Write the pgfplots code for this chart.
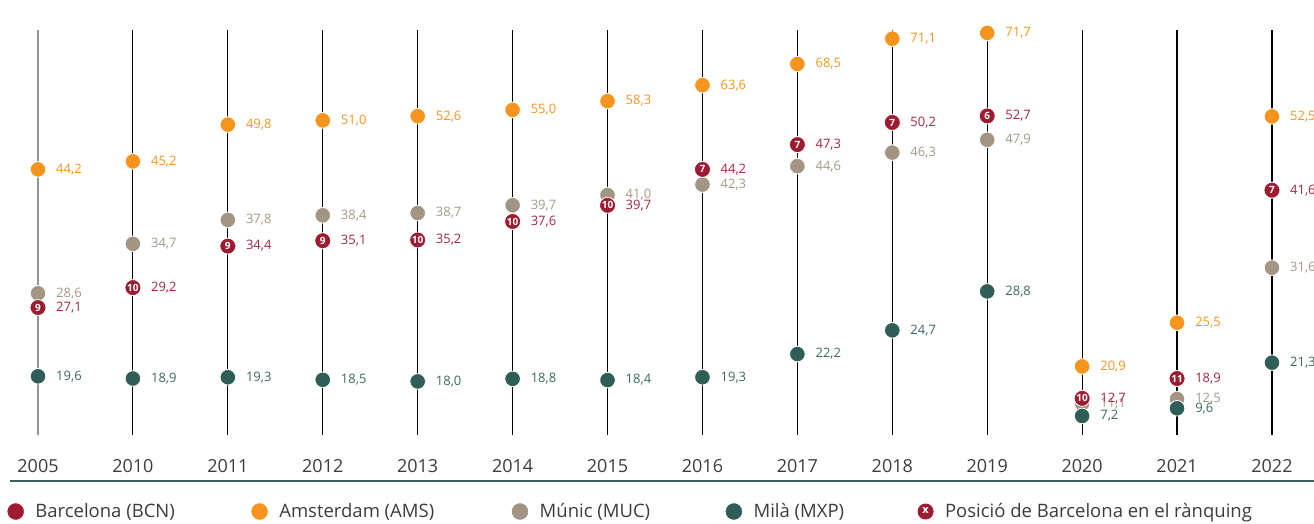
\documentclass[border=0pt]{standalone}
\usepackage{fontspec}
\setmainfont{Open Sans}
\usepackage{pgfplots}
\usepackage{pgfplotstable}
\pgfplotsset{compat=1.18}
\definecolor{bcn}{HTML}{9E1B32}
\definecolor{bcntxt}{HTML}{A3263D}
\definecolor{ams}{HTML}{F7941D}
\definecolor{muc}{HTML}{A29584}
\definecolor{muctxt}{HTML}{A39887}
\definecolor{mxp}{HTML}{2F5D57}
\definecolor{mxptxt}{HTML}{3A6962}
\definecolor{txtgray}{HTML}{3C3C3C}
\definecolor{rulecol}{HTML}{3F5E5E}

\pgfplotstableread{
x v r
0 27.1 9
1 29.2 10
2 34.4 9
3 35.1 9
4 35.2 10
5 37.6 10
6 39.7 10
7 44.2 7
8 47.3 7
9 50.2 7
10 52.7 6
11 12.7 10
12 18.9 11
13 41.6 7
}\bcn
\pgfplotstableread{
x v
0 44.2
1 45.2
2 49.8
3 51.0
4 52.6
5 55.0
6 58.3
7 63.6
8 68.5
9 71.1
10 71.7
11 20.9
12 25.5
13 52.5
}\ams
\pgfplotstableread{
x v
0 28.6
1 34.7
2 37.8
3 38.4
4 38.7
5 39.7
6 41.0
7 42.3
8 44.6
9 46.3
10 47.9
11 11.1
12 12.5
13 31.6
}\muc
\pgfplotstableread{
x v
0 19.6
1 18.9
2 19.3
3 18.5
4 18.0
5 18.8
6 18.4
7 19.3
8 22.2
9 24.7
10 28.8
11 7.2
12 9.6
13 21.3
}\mxp

\pgfplotsset{
  valnode/.style={
    draw=none, mark=none, forget plot,
    point meta=explicit,
    nodes near coords={\pgfmathprintnumber[fixed, fixed zerofill, precision=1, use comma, assume math mode=true]{\pgfplotspointmeta}},
    every node near coord/.append style={anchor=west, xshift=18pt, inner sep=0pt, text=#1, font=\fontsize{13}{15}\selectfont},
  },
  dot/.style={only marks, mark=*, mark size=7.8pt, forget plot,
    mark options={fill=#1, draw=white, line width=0.8pt}},
}

\begin{document}
\begin{tikzpicture}
\useasboundingbox (0,0) rectangle (1314pt,523pt);
\begin{axis}[
  at={(0pt,88pt)}, anchor=south west,
  scale only axis, width=1314pt, height=405pt,
  xmin=-0.40034, xmax=13.4429,
  ymin=1.25, ymax=72,
  y coord trafo/.code={\pgfmathparse{(#1<20) ? (-4+3.2*#1) : ((#1<30) ? (60+9.5*(#1-20)) : ((#1<40) ? (155+7.7*(#1-30)) : ((#1<50) ? (232+8*(#1-40)) : ((#1<58) ? (312+2.625*(#1-50)) : ((#1<64) ? (333+3*(#1-58)) : ((#1<68.5) ? (351+4.444*(#1-64)) : (371+9.714*(#1-68.5))))))))}},
  clip=false,
  axis line style={draw=none},
  major tick length=0pt,
  ytick=\empty,
  xtick={1,...,13},
  xticklabels={\textnormal{2010},\textnormal{2011},\textnormal{2012},\textnormal{2013},\textnormal{2014},\textnormal{2015},\textnormal{2016},\textnormal{2017},\textnormal{2018},\textnormal{2019},\textnormal{2020},\textnormal{2021},\textnormal{2022}},
  extra x ticks={0},
  extra x tick labels={\textnormal{2005}},
  xmajorgrids,
  grid style={black, line width=1.15pt},
  extra x tick style={grid style={color=gray!85, line width=1.6pt}},
  xticklabel style={anchor=base, yshift=-37pt, inner sep=0pt, text=txtgray, font=\fontsize{18}{21}\selectfont},
  legend columns=5,
  legend cell align=left,
  legend style={at={(0.005708,-0.1889)}, anchor=west, draw=none, fill=none,
    inner sep=0pt, outer sep=0pt, nodes={inner sep=0pt},
    font=\fontsize{18.5}{21}\selectfont, text=txtgray,
    /tikz/every odd column/.style={column sep=11.5pt},
    /tikz/every even column/.style={column sep=0pt}},
]
% Munich
\addplot[dot=muc] table[x=x,y=v]{\muc};
\addplot[valnode=muctxt] table[x=x,y=v,meta=v]{\muc};
% Milan
\addplot[dot=mxp] table[x=x,y=v]{\mxp};
\addplot[valnode=mxptxt] table[x=x,y=v,meta=v]{\mxp};
% Barcelona (rank in marker)
\addplot[draw=none, mark=none, forget plot, point meta=explicit symbolic,
  nodes near coords,
  every node near coord/.append style={anchor=center, circle, fill=bcn, draw=white, line width=0.8pt,
    minimum size=16pt, inner sep=0pt, text=white, font=\bfseries\fontsize{10}{10}\selectfont}]
  table[x=x,y=v,meta=r]{\bcn};
\addplot[valnode=bcntxt] table[x=x,y=v,meta=v]{\bcn};
% Amsterdam
\addplot[dot=ams] table[x=x,y=v]{\ams};
\addplot[valnode=ams] table[x=x,y=v,meta=v]{\ams};

\addlegendimage{legend image code/.code={\fill[bcn] (0pt,0pt) circle (8pt);}}
\addlegendentry{\makebox[216pt][l]{Barcelona (BCN)}}
\addlegendimage{legend image code/.code={\fill[ams] (0pt,0pt) circle (8pt);}}
\addlegendentry{\makebox[232.5pt][l]{Amsterdam (AMS)}}
\addlegendimage{legend image code/.code={\fill[muc] (0pt,0pt) circle (8pt);}}
\addlegendentry{\makebox[186pt][l]{Múnic (MUC)}}
\addlegendimage{legend image code/.code={\fill[mxp] (0pt,0pt) circle (8pt);}}
\addlegendentry{\makebox[164pt][l]{Milà (MXP)}}
\addlegendimage{legend image code/.code={\node[circle, fill=bcn, inner sep=0pt, minimum size=16pt, text=white, font=\bfseries\fontsize{11}{11}\selectfont] at (0pt,0pt) {x};}}
\addlegendentry{Posició de Barcelona en el rànquing}
\end{axis}
\draw[rulecol, line width=1.5pt] (10pt,42pt) -- (1314pt,42pt);
\end{tikzpicture}
\end{document}
